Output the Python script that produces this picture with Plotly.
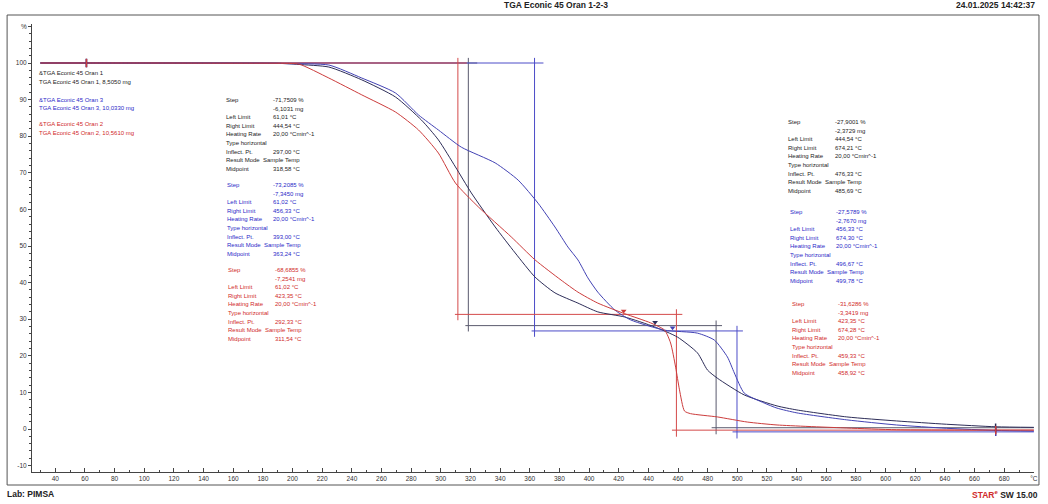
import plotly.graph_objects as go

# ---------------- measured curves (temperature °C, mass %) ----------------
temp_oran1 = [30, 61, 150, 190, 197.7, 204.4, 224.5, 246.7, 269.5, 287.0, 298.4, 309.9,
              320.6, 336.7, 350.2, 363.6, 377.0, 392.5, 405.9, 424.1, 444.2, 459.7,
              473.1, 479.9, 486.5, 504.7, 526.8, 540.2, 573.8, 607.4, 641.0, 674.6, 700]
mass_oran1 = [100, 100, 99.95, 99.9, 99.8, 99.6, 98.9, 95.4, 90.7, 84.4, 79.0, 71.6,
              64.5, 55.2, 48.1, 41.5, 37.2, 34.4, 32.0, 30.6, 27.9, 25.1,
              20.8, 16.1, 13.9, 9.3, 6.3, 5.2, 3.3, 2.2, 1.3, 0.6, 0.45]

temp_oran3 = [30, 61, 150, 190, 197.7, 224.5, 246.7, 269.5, 285.0, 298.4, 313.9, 336.7,
              352.2, 365.6, 377.0, 385.8, 392.5, 399.2, 405.9, 417.4, 428.1, 451.0,
              473.1, 484.5, 493.3, 498.0, 504.7, 518.1, 526.8, 540.2, 573.8, 607.4,
              641.0, 674.6, 700]
mass_oran3 = [100, 100, 99.95, 99.9, 99.8, 99.45, 95.9, 91.8, 85.8, 81.7, 77.0, 72.7,
              68.0, 61.7, 55.2, 49.7, 46.2, 41.3, 37.4, 32.5, 29.8, 27.0,
              26.2, 24.3, 19.7, 15.3, 9.8, 7.1, 5.7, 4.4, 2.5, 1.1,
              0.2, -0.4, -0.6]

temp_oran2 = [30, 61, 100, 150, 195, 204.4, 224.5, 246.7, 269.5, 285.0, 298.4, 309.9,
              325.3, 347.5, 363.6, 381.1, 392.5, 405.9, 424.1, 441.5, 451.0, 455.0,
              458.4, 461.0, 464.4, 468.4, 486.5, 506.7, 526.8, 573.8, 607.4, 674.6, 700]
mass_oran2 = [100, 100, 100, 99.95, 99.9, 99.7, 95.9, 91.3, 86.6, 81.7, 75.4, 67.2,
              60.7, 52.5, 46.2, 40.7, 37.4, 34.4, 31.5, 29.0, 27.0, 23.5,
              16.9, 10.7, 4.9, 4.2, 3.3, 1.9, 1.1, 0.27, -0.2, -0.3, -0.3]

# ---------------- step evaluation results (order: Oran 1, Oran 3, Oran 2) ----------------
sample_names = ["TGA Econic 45 Oran 1", "TGA Econic 45 Oran 3", "TGA Econic 45 Oran 2"]
sample_mass_mg = ["8,5050", "10,0330", "10,5610"]
step1_pct = [-71.7509, -73.2085, -68.6855]
step1_mg = [-6.1031, -7.3450, -7.2541]
step1_left = [61.01, 61.02, 61.02]
step1_right = [444.54, 456.33, 423.35]
step1_inflect = [297.00, 393.00, 292.33]
step1_mid = [318.58, 363.24, 311.54]

step2_pct = [-27.9001, -27.5789, -31.6286]
step2_mg = [-2.3729, -2.7670, -3.3419]
step2_left = [444.54, 456.33, 423.35]
step2_right = [674.21, 674.30, 674.28]
step2_inflect = [476.33, 496.67, 459.33]
step2_mid = [485.69, 499.78, 458.92]

heating_rate = 20.00

curve_colors = ["#2d2d58", "#4242b4", "#cc3c3c"]
step_colors = ["#5a5a6e", "#4c4cc8", "#d44a4a"]
text_colors = ["#1c1c1c", "#2a2ac8", "#d02a2a"]

FONT = "Liberation Sans Narrow, Arial Narrow, Liberation Sans, Arial, sans-serif"
SMALL = 6

# plot area in page pixels
PL, PR, PT, PB = 32, 1038, 24, 472


def px(x):
    return (x - PL) / (PR - PL)


def py(y):
    return (PB - y) / (PB - PT)


def num(v, d=2):
    return f"{v:.{d}f}".replace(".", ",")


fig = go.Figure()

curves = [(temp_oran1, mass_oran1), (temp_oran3, mass_oran3), (temp_oran2, mass_oran2)]

# step construction lines (baselines and midpoint verticals)
for i in range(3):
    top = 100.0
    lvl1 = top + step1_pct[i]
    lvl2 = lvl1 + step2_pct[i]
    c = step_colors[i]
    segs = [
        ([30, step1_mid[i] + 6], [top, top]),
        ([step1_mid[i], step1_mid[i]], [top + 1.4, lvl1 - 1.6]),
        ([step1_mid[i] - 2, step2_mid[i] + 4], [lvl1, lvl1]),
        ([step2_mid[i], step2_mid[i]], [lvl1 + 1.4, lvl2 - 1.8]),
        ([step2_mid[i] - 3, 700], [lvl2, lvl2]),
    ]
    for xs, ys in segs:
        fig.add_trace(go.Scatter(x=xs, y=ys, mode="lines",
                                 line=dict(color=c, width=1), hoverinfo="skip",
                                 showlegend=False))

# TGA curves
for i, (t, m) in enumerate(curves):
    fig.add_trace(go.Scatter(x=t, y=m, mode="lines", name=sample_names[i],
                             line=dict(color=curve_colors[i], width=1,
                                       shape="spline", smoothing=0.6),
                             showlegend=False))

# limit markers
for i in range(3):
    lvl1 = 100.0 + step1_pct[i]
    lvl2 = lvl1 + step2_pct[i]
    fig.add_trace(go.Scatter(x=[step1_right[i]], y=[lvl1 + 0.9], mode="markers",
                             marker=dict(symbol="triangle-down", size=5,
                                         color=curve_colors[i]),
                             hoverinfo="skip", showlegend=False))
    fig.add_trace(go.Scatter(x=[step1_left[i], step2_right[i]], y=[100.0, lvl2],
                             mode="markers",
                             marker=dict(symbol="line-ns", size=6,
                                         line=dict(color=curve_colors[i], width=1.5)),
                             hoverinfo="skip", showlegend=False))

ann = []


def text(x, y, s, color, size=SMALL, anchor="left", bold=False):
    if bold:
        s = f"<b>{s}</b>"
    ann.append(dict(x=px(x), y=py(y), xref="paper", yref="paper", text=s,
                    showarrow=False, xanchor=anchor, yanchor="middle",
                    font=dict(family=FONT, size=size, color=color)))


# curve labels (upper left)
label_rows = [(73, 82), (100, 108), (124, 133)]
for i in range(3):
    y1, y2 = label_rows[i]
    text(37, y1, f"&amp;{sample_names[i]}", text_colors[i])
    text(37, y2, f"{sample_names[i]}, {sample_mass_mg[i]} mg", text_colors[i])


def block(x_lab, x_val, y0, color, pct, mg, left, right, inflect, mid):
    rows = [
        ("Step", f"{num(pct, 4)} %"),
        ("", f"{num(mg, 4)} mg"),
        ("Left Limit", f"{num(left)} °C"),
        ("Right Limit", f"{num(right)} °C"),
        ("Heating Rate", f"{num(heating_rate)} °Cmin^-1"),
        ("Type horizontal", ""),
        ("Inflect. Pt.", f"{num(inflect)} °C"),
        ("Result Mode  Sample Temp", ""),
        ("Midpoint", f"{num(mid)} °C"),
    ]
    for k, (lab, val) in enumerate(rows):
        yy = y0 + k * 8.6
        if lab:
            text(x_lab, yy, lab, color)
        if val:
            text(x_val, yy, val, color)


left_blocks = [(225, 272, 100), (226, 272, 185), (227, 274, 270)]
right_blocks = [(789, 836, 122), (791, 837, 212), (793, 839, 304)]
for i in range(3):
    xl, xv, y0 = left_blocks[i]
    block(xl, xv, y0, text_colors[i], step1_pct[i], step1_mg[i], step1_left[i],
          step1_right[i], step1_inflect[i], step1_mid[i])
    xl, xv, y0 = right_blocks[i]
    block(xl, xv, y0, text_colors[i], step2_pct[i], step2_mg[i], step2_left[i],
          step2_right[i], step2_inflect[i], step2_mid[i])

# page header / footer
text(558, 5, "TGA Econic 45 Oran 1-2-3", "#222222", size=8.5, anchor="center", bold=True)
text(1041, 5, "24.01.2025 14:42:37", "#222222", size=8.5, anchor="right", bold=True)
text(5, 494, "Lab: PIMSA", "#222222", size=8.5, bold=True)
text(1044, 494,
     "<span style='color:#d02a2a'>STAR<sup>e</sup></span> SW 15.00",
     "#222222", size=8.5, anchor="right", bold=True)

x_ticks = list(range(40, 701, 20))
x_labels = [str(v) for v in x_ticks[:-1]] + ["°C"]
y_ticks = list(range(-10, 111, 10))
y_labels = [str(v) for v in y_ticks[:-1]] + ["%"]

fig.update_layout(
    width=1048, height=504,
    margin=dict(l=PL, r=1048 - PR, t=PT, b=504 - PB),
    paper_bgcolor="white", plot_bgcolor="white",
    font=dict(family=FONT, size=7, color="#333333"),
    annotations=ann,
    shapes=[dict(type="rect", xref="paper", yref="paper",
                 x0=px(7), x1=px(1043), y0=py(485), y1=py(15),
                 line=dict(color="#555555", width=1), fillcolor="rgba(0,0,0,0)",
                 layer="below")],
    xaxis=dict(range=[24.3, 700.1], showgrid=False, zeroline=False,
               showline=True, linecolor="#444444", linewidth=1,
               tickmode="array", tickvals=x_ticks, ticktext=x_labels,
               ticks="inside", ticklen=4, tickcolor="#444444",
               tickfont=dict(family=FONT, size=6.5, color="#333333"),
               minor=dict(ticks="inside", ticklen=2, dtick=10, tick0=0,
                          tickcolor="#444444", showgrid=False)),
    yaxis=dict(range=[-11.75, 110.66], showgrid=False, zeroline=False,
               showline=True, linecolor="#444444", linewidth=1,
               tickmode="array", tickvals=y_ticks, ticktext=y_labels,
               ticks="outside", ticklen=3, tickcolor="#444444",
               tickfont=dict(family=FONT, size=6.5, color="#333333"),
               minor=dict(ticks="outside", ticklen=2, dtick=2, tick0=0,
                          tickcolor="#444444", showgrid=False)),
)

fig.write_html("out.html")
